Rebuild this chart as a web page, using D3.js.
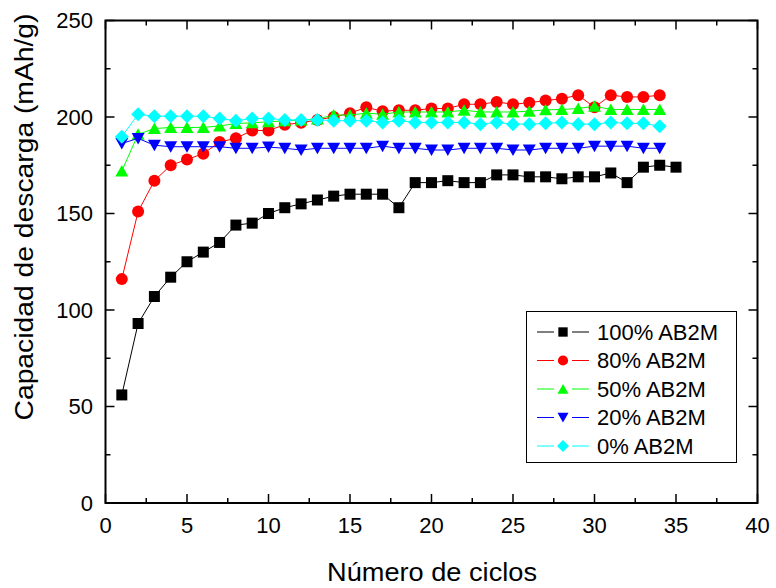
<!DOCTYPE html>
<html><head><meta charset="utf-8">
<script src="https://cdn.jsdelivr.net/npm/d3@7"></script>
<style>body{margin:0;background:#fff}svg{display:block}text{font-family:"Liberation Sans",Arial,sans-serif;fill:#000}</style>
</head><body><svg id="c" width="776" height="588"></svg>
<script>
const seriesNames = ["100% AB2M","80% AB2M","50% AB2M","20% AB2M","0% AB2M"];
const black = [56,93,107,117,125,130,135,144,145,150,153,155,157,159,160,160,160,153,166,166,167,166,166,170,170,169,169,168,169,169,171,166,174,175,174];
const red = [116,151,167,175,178,181,187,189,193,193,196,197,198.5,200,202,205,203,203.5,203.5,204.4,204.4,206.6,206.6,207.8,206.6,207.4,208.5,209.5,211.3,205,211.3,210.4,210.4,211.3];
const green = [172,191,194,194.6,194.6,194.6,195.4,196.6,197,197.5,198,198.5,199,201,201,202,201.4,202.6,202.6,202.6,202.6,203.5,202.6,202.6,202.6,203,203.7,203.9,204.4,205.6,203.9,203.9,203.9,203.9];
const blue = [186.3,188.9,185.4,184.6,184.6,184.6,184.6,183.8,183.8,184.4,183.8,182.9,183.8,183.8,183.8,183.8,184.9,183.8,183.8,182.9,182.9,183.8,183.8,183.8,182.9,182.9,183.8,183.8,183.8,184.9,184.9,184.9,183.8,183.8];
const cyan = [189.8,201.4,200.4,200.4,200.4,200.4,199.2,198.1,199.2,199.2,198.5,198.5,198.5,198.1,198.1,198.1,197.2,198.1,197.2,197.2,197.2,197.2,196.3,197.2,196.3,196.3,196.7,197.2,196.3,196.3,197.2,196.7,196.7,195.2];
const xTicks = [0,5,10,15,20,25,30,35,40];
const yTicks = [0,50,100,150,200,250];
const xLabel = "Número de ciclos";
const yLabel = "Capacidad de descarga (mAh/g)";

const colors = ["#000000","#ff0000","#00ff00","#0000ff","#00ffff"];
const shapes = ["square","circle","up","down","diamond"];
const allData = [black, red, green, blue, cyan];

const L=105.5, R=757.5, T=20.5, B=503;
const x = d3.scaleLinear().domain([0,40]).range([L,R]);
const y = d3.scaleLinear().domain([0,250]).range([B,T]);
const svg = d3.select("#c");

function marker(shape){
  switch(shape){
    case "square": return "M-5.5,-5.5H5.5V5.5H-5.5Z";
    case "circle": return "M-6,0A6,6 0 1,0 6,0A6,6 0 1,0 -6,0Z";
    case "up": return "M0,-6L6.5,5.5L-6.5,5.5Z";
    case "down": return "M0,6L6.5,-5.5L-6.5,-5.5Z";
    case "diamond": return "M0,-7L7,0L0,7L-7,0Z";
  }
}

// series
allData.forEach((vals,i)=>{
  const pts = vals.map((v,j)=>[j+1,v]);
  const g = svg.append("g");
  g.append("path").datum(pts)
    .attr("d", d3.line().x(d=>x(d[0])).y(d=>y(d[1])))
    .attr("fill","none").attr("stroke",colors[i]).attr("stroke-width",1);
  g.selectAll("path.m").data(pts).join("path").attr("class","m")
    .attr("transform",d=>`translate(${x(d[0])},${y(d[1])})`)
    .attr("d",marker(shapes[i])).attr("fill",colors[i]);
});

const fs = 22;
// frame
svg.append("rect").attr("x",L).attr("y",T).attr("width",R-L).attr("height",B-T)
  .attr("fill","none").attr("stroke","#000").attr("stroke-width",2);
// ticks
const tk = svg.append("g").attr("stroke","#000").attr("stroke-width",1.5);
d3.range(0,40.01,2.5).forEach(v=>{
  const len = (v%5===0)?9:5;
  tk.append("line").attr("x1",x(v)).attr("x2",x(v)).attr("y1",B).attr("y2",B-len);
  tk.append("line").attr("x1",x(v)).attr("x2",x(v)).attr("y1",T).attr("y2",T+len);
});
d3.range(0,250.01,25).forEach(v=>{
  const len = (v%50===0)?9:5;
  tk.append("line").attr("y1",y(v)).attr("y2",y(v)).attr("x1",L).attr("x2",L+len);
  tk.append("line").attr("y1",y(v)).attr("y2",y(v)).attr("x1",R).attr("x2",R-len);
});
svg.append("g").selectAll("text").data(xTicks).join("text")
  .attr("x",d=>x(d)).attr("y",533).attr("text-anchor","middle").attr("font-size",fs).text(d=>d);
svg.append("g").selectAll("text").data(yTicks).join("text")
  .attr("x",93).attr("y",d=>y(d)).attr("dy","0.36em").attr("text-anchor","end").attr("font-size",fs).text(d=>d);

svg.append("text").attr("x",432).attr("y",580.5).attr("text-anchor","middle").attr("font-size",25)
  .attr("textLength",210).attr("lengthAdjust","spacingAndGlyphs").text(xLabel);
svg.append("text").attr("transform","translate(33,217) rotate(-90)").attr("text-anchor","middle").attr("font-size",25)
  .attr("textLength",407).attr("lengthAdjust","spacingAndGlyphs").text(yLabel);

// legend
const lg = svg.append("g");
lg.append("rect").attr("x",526.5).attr("y",311.5).attr("width",210).attr("height",151)
  .attr("fill","#fff").attr("stroke","#000").attr("stroke-width",1);
seriesNames.forEach((n,i)=>{
  const cy = 332 + i*28.5;
  lg.append("line").attr("x1",537).attr("x2",554).attr("y1",cy).attr("y2",cy).attr("stroke",colors[i]).attr("stroke-width",1);
  lg.append("line").attr("x1",572).attr("x2",589).attr("y1",cy).attr("y2",cy).attr("stroke",colors[i]).attr("stroke-width",1);
  lg.append("path").attr("transform",`translate(563,${cy}) scale(0.85)`).attr("d",marker(shapes[i])).attr("fill",colors[i]);
  lg.append("text").attr("x",597).attr("y",cy).attr("dy","0.36em").attr("font-size",22).text(n);
});
</script></body></html>
